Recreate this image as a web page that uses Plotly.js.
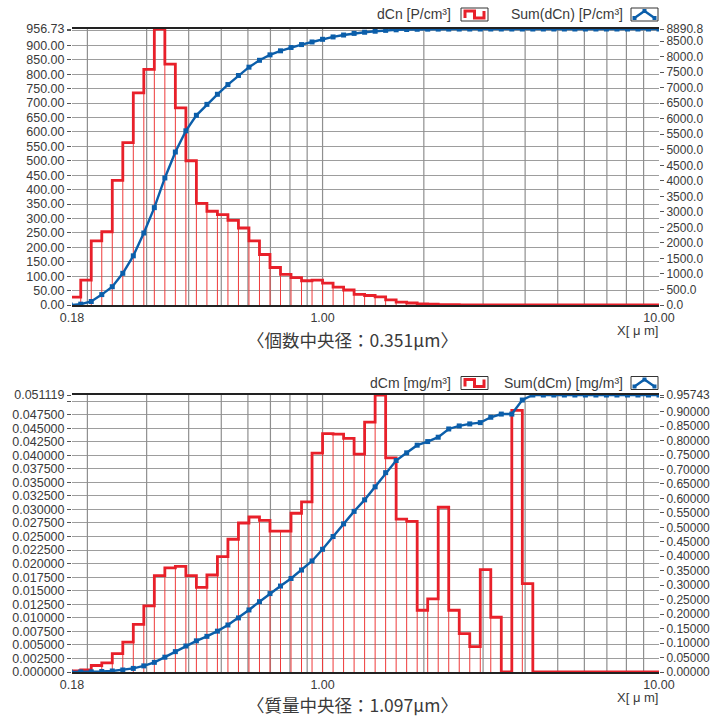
<!DOCTYPE html>
<html>
<head>
<meta charset="utf-8">
<script src="https://cdn.plot.ly/plotly-3.0.1.min.js"></script>
<style>
html,body{margin:0;padding:0;background:#fff;}
#chart{width:712px;height:720px;}
</style>
</head>
<body>
<div id="chart"></div>
<script>
// Channel boundaries [µm] (32 channels per decade)
var edges = [0.177828,0.191095,0.205353,0.220673,0.237137,0.254830,0.273842,0.294273,0.316228,0.339821,
  0.365174,0.392419,0.421697,0.453158,0.486968,0.523299,0.562341,0.604296,0.649382,0.697831,
  0.749894,0.805842,0.865964,0.930572,1.0,1.074608,1.154782,1.240938,1.333521,1.433013,
  1.539927,1.654817,1.778279,1.910953,2.053525,2.206734,2.371374,2.548297,2.738420,2.942727,
  3.162278,3.398208,3.651741,3.924190,4.216965,4.531584,4.869675,5.232991,5.623413,6.042964,
  6.493816,6.978306,7.498942,8.058422,8.659643,9.305720,10.0];

// Number concentration per channel [P/cm3]
var dCn = [27,86,222,254,432,563,735,817,956.73,835,
  683,500,352,325,313,293,267,222,175,130,
  106,95,84,86,76,62,52,37,33,28,
  18,10,7,4,3,1.5,1.2,0.6,0.4,0.2,
  0.2,0.1,0.1,0,0.3,0.1,0,0,0,0,
  0,0,0,0,0,0];
// Cumulative number concentration at channel edges [P/cm3]
var sumCn = [0,27,113,335,589,1021,1584,2319,3136,4093,
  4928,5611,6111,6463,6788,7101,7394,7661,7883,8058,
  8188,8294,8389,8473,8559,8635,8697,8749,8786,8819,
  8847,8865,8875,8882,8886,8888,8889,8889.5,8890,8890.2,
  8890.4,8890.5,8890.6,8890.6,8890.6,8890.7,8890.8,8890.8,8890.8,8890.8,
  8890.8,8890.8,8890.8,8890.8,8890.8,8890.8,8890.8];

// Mass concentration per channel [mg/m3]
var dCm = [0.0002,0.0004,0.0012,0.0017,0.0034,0.0055,0.0088,0.0122,0.0178,0.0192,
  0.0195,0.0178,0.0156,0.0179,0.0213,0.0245,0.0275,0.0286,0.0280,0.0260,
  0.0260,0.0293,0.0314,0.0404,0.0440,0.0439,0.0431,0.0402,0.0461,0.051119,
  0.0395,0.0282,0.0278,0.0114,0.0135,0.0304,0.0114,0.0071,0.0047,0.0189,
  0.0101,0,0.0483,0.0163,0,0,0,0,0,0,
  0,0,0,0,0,0];
// Cumulative mass concentration at channel edges [mg/m3]
var sumCm = [0,0.0002,0.0006,0.0018,0.0035,0.0069,0.0124,0.0212,0.0334,0.0512,
  0.0704,0.0899,0.1077,0.1233,0.1412,0.1625,0.1870,0.2145,0.2431,0.2711,
  0.2971,0.3231,0.3524,0.3838,0.4242,0.4682,0.5121,0.5552,0.5950,0.6400,
  0.6890,0.7310,0.7575,0.7840,0.7965,0.8115,0.8400,0.8505,0.8575,0.8620,
  0.8805,0.8915,0.8915,0.9400,0.95743,0.95743,0.95743,0.95743,0.95743,0.95743,
  0.95743,0.95743,0.95743,0.95743,0.95743,0.95743,0.95743];

// Axis ticks
var xTickVals = [0.18, 1, 10];
var xTickText = ['0.18', '1.00', '10.00'];
var xGridVals = [0.2,0.3,0.4,0.5,0.6,0.7,0.8,0.9,1,2,3,4,5,6,7,8,9];
var yTopLeftVals = [0,50,100,150,200,250,300,350,400,450,500,550,600,650,700,750,800,850,900,950,956.73];
var yTopRightVals = [0,500,1000,1500,2000,2500,3000,3500,4000,4500,5000,5500,6000,6500,7000,7500,8000,8500,8890.8];
var yBotLeftVals = [0,0.0025,0.005,0.0075,0.01,0.0125,0.015,0.0175,0.02,0.0225,0.025,0.0275,0.03,0.0325,0.035,0.0375,0.04,0.0425,0.045,0.0475,0.05,0.051119];
var yBotRightVals = [0,0.05,0.1,0.15,0.2,0.25,0.3,0.35,0.4,0.45,0.5,0.55,0.6,0.65,0.7,0.75,0.8,0.85,0.9,0.95,0.95743];
var topTitle = '〈個数中央径：0.351μm〉';
var botTitle = '〈質量中央径：1.097μm〉';
var legTop = ['dCn [P/cm³]', 'Sum(dCn) [P/cm³]'];
var legBot = ['dCm [mg/m³]', 'Sum(dCm) [mg/m³]'];

var RED = '#e8202a', THIN = '#ef3a3a', BLUE = '#0b5eaa', TXT = '#3a3a3a', GRID = '#8f8f8f';
var FONT = 'Liberation Sans, Arial, sans-serif';
var CJK = 'Noto Sans CJK JP, sans-serif';

function stepY(v){ return v.concat([v[v.length-1]]); }
function thinLines(v){
  var xs=[], ys=[];
  for (var i=1;i<v.length;i++){
    var h=Math.max(v[i-1],v[i]);
    if (h<=0) continue;
    xs.push(edges[i],edges[i],null); ys.push(0,h,null);
  }
  return {x:xs,y:ys};
}
function gridLines(top){
  var xs=[], ys=[];
  xGridVals.forEach(function(g){ xs.push(g,g,null); ys.push(0,top,null); });
  return {x:xs,y:ys};
}
function fmt(vals, dec, skip){ return vals.map(function(v){ return v===skip ? '' : v.toFixed(dec); }); }

var tlTop = thinLines(dCn), tlBot = thinLines(dCm);
var gTop = gridLines(956.73), gBot = gridLines(0.051119);
var traces = [
  {x:gTop.x, y:gTop.y, xaxis:'x', yaxis:'y', mode:'lines', line:{color:GRID,width:1.2}, hoverinfo:'skip'},
  {x:tlTop.x, y:tlTop.y, xaxis:'x', yaxis:'y', mode:'lines', line:{color:THIN,width:1}, hoverinfo:'skip'},
  {x:edges, y:stepY(dCn), xaxis:'x', yaxis:'y', mode:'lines', line:{color:RED,width:2.8,shape:'hv'}},
  {x:edges, y:sumCn, xaxis:'x', yaxis:'y2', mode:'lines+markers', line:{color:BLUE,width:2.4},
   marker:{symbol:'square',size:5,color:BLUE}},
  {x:gBot.x, y:gBot.y, xaxis:'x2', yaxis:'y3', mode:'lines', line:{color:GRID,width:1.2}, hoverinfo:'skip'},
  {x:tlBot.x, y:tlBot.y, xaxis:'x2', yaxis:'y3', mode:'lines', line:{color:THIN,width:1}, hoverinfo:'skip'},
  {x:edges, y:stepY(dCm), xaxis:'x2', yaxis:'y3', mode:'lines', line:{color:RED,width:2.8,shape:'hv'}},
  {x:edges, y:sumCm, xaxis:'x2', yaxis:'y4', mode:'lines+markers', line:{color:BLUE,width:2.4},
   marker:{symbol:'square',size:5,color:BLUE}}
];

// pixel -> paper helpers (plot area x 72..659, y 29..672)
var L=72, R=659, T=29, B=672;
function px(x){ return (x-L)/(R-L); }
function py(y){ return (B-y)/(B-T); }

function xAxis(anchor){
  return {type:'log', range:[Math.log10(0.18), 1], anchor:anchor, domain:[0,1],
    tickmode:'array', tickvals:xTickVals, ticktext:xTickText, ticks:'',
    showgrid:false, zeroline:false, showline:true, linecolor:'#222', linewidth:1.6, mirror:true,
    tickfont:{family:FONT,size:12.5,color:TXT}, fixedrange:true};
}
function yLeft(range, dom, vals, text, anchor){
  return {range:range, domain:dom, anchor:anchor, tickmode:'array', tickvals:vals, ticktext:text,
    ticks:'outside', ticklen:4, tickcolor:'#555', tickwidth:1, showgrid:true, gridcolor:'#9d9d9d', gridwidth:1,
    zeroline:false, showline:false, tickfont:{family:FONT,size:12.5,color:TXT}, fixedrange:true};
}
function yRight(range, over, vals, text, anchor){
  return {range:range, overlaying:over, side:'right', anchor:anchor, tickmode:'array', tickvals:vals, ticktext:text,
    ticks:'outside', ticklen:4, tickcolor:'#555', tickwidth:1, showgrid:false,
    zeroline:false, showline:false, tickfont:{family:FONT,size:12,color:TXT}, fixedrange:true};
}

var topDom = [py(305), 1], botDom = [0, py(395)];

function legendItems(yc, labels){
  var shapes=[], ann=[];
  var y0=yc-6.5, y1=yc+6.5;
  shapes.push({type:'rect', xref:'paper', yref:'paper', x0:px(461), x1:px(488), y0:py(y1), y1:py(y0),
    line:{color:'#333',width:1}, fillcolor:'#fff'});
  shapes.push({type:'path', xref:'paper', yref:'paper',
    path:'M'+px(465)+','+py(y1-3)+' L'+px(465)+','+py(y0+3)+' L'+px(474.5)+','+py(y0+3)+' L'+px(474.5)+','+py(y1-3)+
         ' L'+px(484)+','+py(y1-3)+' L'+px(484)+','+py(y0+3),
    line:{color:RED,width:3}});
  shapes.push({type:'rect', xref:'paper', yref:'paper', x0:px(631), x1:px(658), y0:py(y1), y1:py(y0),
    line:{color:'#333',width:1}, fillcolor:'#fff'});
  shapes.push({type:'path', xref:'paper', yref:'paper',
    path:'M'+px(634.5)+','+py(y1-3)+' L'+px(644.5)+','+py(y0+3)+' L'+px(654.5)+','+py(y1-3),
    line:{color:BLUE,width:2.4}});
  [[634.5,y1-3],[644.5,y0+3],[654.5,y1-3]].forEach(function(p){
    shapes.push({type:'rect', xref:'paper', yref:'paper', x0:px(p[0]-2), x1:px(p[0]+2), y0:py(p[1]+2), y1:py(p[1]-2),
      line:{width:0}, fillcolor:BLUE});
  });
  ann.push({xref:'paper', yref:'paper', x:px(453), y:py(yc), xanchor:'right', yanchor:'middle', showarrow:false,
    text:labels[0], font:{family:FONT,size:14,color:TXT}});
  ann.push({xref:'paper', yref:'paper', x:px(625), y:py(yc), xanchor:'right', yanchor:'middle', showarrow:false,
    text:labels[1], font:{family:FONT,size:14,color:TXT}});
  return {shapes:shapes, ann:ann};
}
var lt = legendItems(14.5, legTop), lb = legendItems(383, legBot);

var annotations = lt.ann.concat(lb.ann).concat([
  {xref:'paper', yref:'paper', x:px(660), y:py(330), xanchor:'right', yanchor:'middle', showarrow:false,
   text:'X[ μ m]', font:{family:FONT,size:13,color:TXT}},
  {xref:'paper', yref:'paper', x:px(660), y:py(697), xanchor:'right', yanchor:'middle', showarrow:false,
   text:'X[ μ m]', font:{family:FONT,size:13,color:TXT}},
  {xref:'paper', yref:'paper', x:px(352), y:py(339), xanchor:'center', yanchor:'middle', showarrow:false,
   text:topTitle, font:{family:CJK,size:17.5,color:TXT}},
  {xref:'paper', yref:'paper', x:px(352), y:py(704), xanchor:'center', yanchor:'middle', showarrow:false,
   text:botTitle, font:{family:CJK,size:17.5,color:TXT}}
]);

var layout = {
  width:712, height:720, margin:{l:L, r:712-R, t:T, b:720-B, pad:0},
  paper_bgcolor:'#fff', plot_bgcolor:'#fff', showlegend:false,
  xaxis: xAxis('y'),
  yaxis: yLeft([0,956.73], topDom, yTopLeftVals, fmt(yTopLeftVals,2,950), 'x'),
  yaxis2: yRight([0,8890.8], 'y', yTopRightVals, yTopRightVals.map(function(v){return v.toFixed(1);}), 'x'),
  xaxis2: xAxis('y3'),
  yaxis3: yLeft([0,0.051119], botDom, yBotLeftVals, fmt(yBotLeftVals,6,0.05), 'x2'),
  yaxis4: yRight([0,0.95743], 'y3', yBotRightVals, fmt(yBotRightVals,5,0.95), 'x2'),
  shapes: lt.shapes.concat(lb.shapes),
  annotations: annotations
};

Plotly.newPlot('chart', traces, layout, {staticPlot:true, displayModeBar:false});
</script>
</body>
</html>
